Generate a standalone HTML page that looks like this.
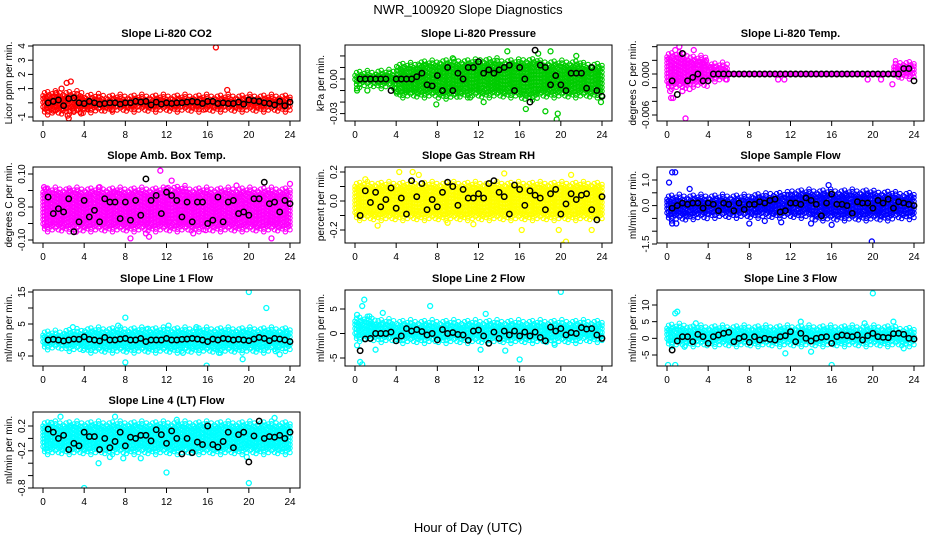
<!DOCTYPE html>
<html><head><meta charset="utf-8"><style>
body{margin:0;background:#fff}
svg{display:block;font-family:"Liberation Sans",Arial,sans-serif}
</style></head><body>
<svg id="c" width="936" height="540" viewBox="0 0 936 540">
<text x="468" y="14" text-anchor="middle" font-size="13">NWR_100920  Slope Diagnostics</text>
<text x="468" y="532" text-anchor="middle" font-size="13">Hour of Day (UTC)</text>
</svg>
<script>
const xTicks=[0,4,8,12,16,20,24];
const blackHours=[0.5,1,1.5,2,2.5,3,3.5,4,4.5,5,5.5,6,6.5,7,7.5,8,8.5,9,9.5,10,10.5,11,11.5,12,12.5,13,13.5,14,14.5,15,15.5,16,16.5,17,17.5,18,18.5,19,19.5,20,20.5,21,21.5,22,22.5,23,23.5,24];

const co2Lo=[-0.5,-0.45,-0.35,-0.3,-0.3,-0.3,-0.3,-0.3,-0.3,-0.3,-0.3,-0.3];
const co2Hi=[0.5,0.5,0.3,0.25,0.25,0.25,0.25,0.25,0.25,0.25,0.25,0.25];
const co2Out=[[16.8,3.9],[2.7,1.5],[2.3,1.4],[1.8,1.0],[17.9,0.9],[1.3,0.7],[2.5,-1.1],[2.4,-0.9],[3.7,-0.75],[1.0,-0.55],[3.0,-0.55],[4.3,-0.4],[6.7,-0.5],[15.8,-0.45]];
const co2Black=[0,0.1,0.2,-0.2,0.3,0.35,0,-0.05,0.1,0,-0.1,-0.05,0,0,-0.1,0,0,0.1,0.05,0.1,-0.15,0.05,-0.1,0,-0.05,0,0,0.05,0.1,0.05,-0.05,0.1,0.1,-0.05,0,-0.05,-0.05,0.05,-0.1,0.2,0.15,0.1,0,-0.05,-0.15,0.1,-0.2,0.05];

const presLo=[-0.003,-0.004,-0.012,-0.012,-0.013,-0.012,-0.012,-0.012,-0.014,-0.012,-0.012,-0.012];
const presHi=[0.003,0.004,0.01,0.012,0.013,0.013,0.014,0.013,0.014,0.012,0.012,0.01];
const presOut=[[0.2,-0.008],[0.2,-0.01],[1.2,-0.01],[3.8,-0.008],[4.0,-0.011],[5.0,-0.01],[7.9,-0.022],[6.7,0.012],[14.8,0.024],[16.6,-0.026],[19.0,0.024],[19.6,-0.035],[19.7,-0.03],[23.9,-0.02],[18.5,-0.028],[12.5,-0.02],[9.5,0.018],[11.2,-0.016],[21.5,0.02],[17.8,0.022]];
const presBlack=[0,0,0,0,0,0,-0.01,0,0,0,0,0.002,0.005,-0.005,-0.006,0.003,-0.01,0.01,-0.01,0.005,0,0.01,0.01,0.015,0.005,0.008,0.005,0.008,0.01,0.012,-0.01,0.01,0,-0.02,0.025,0.012,0.01,-0.005,0.003,-0.005,-0.01,0.005,0.005,0.005,-0.008,0.01,-0.01,-0.015];

const tempLo=[-0.0015,-0.0012,-0.0004,0,0,0,0,0,0,0,0,0];
const tempHi=[0.0025,0.002,0.001,0,0,0,0,0,0,0,0,0.0012];
const tempOut=[[1.8,-0.0065],[2.0,0.0055],[1.0,0.005],[0.3,-0.0025],[0.4,-0.0035],[0.6,-0.0035],[1.5,-0.0025],[2.2,-0.0022],[2.6,0.0035],[1.2,0.004],[0.8,0.0035],[5.8,-0.0008],[10.8,-0.0008],[11.4,-0.0008],[19.5,-0.0008],[20.8,-0.0008],[21.9,-0.0015],[3.8,0.002],[3.4,0.0015],[4.3,0.001]];
const tempBlack=[-0.001,-0.003,0.003,-0.001,-0.0005,0,-0.001,-0.001,0,0,0,0,0,0,0,0,0,0,0,0,0,0,0,0,0,0,0,0,0,0,0,0,0,0,0,0,0,0,0,0,0,0,0,0,0,0.0008,0.0008,-0.001];

const ambLo=[-0.06,-0.06,-0.06,-0.06,-0.06,-0.06,-0.06,-0.06,-0.06,-0.06,-0.06,-0.06];
const ambHi=[0.045,0.045,0.045,0.045,0.045,0.045,0.05,0.045,0.045,0.045,0.045,0.045];
const ambOut=[[0.1,0.06],[0.3,0.055],[7.0,0.045],[10.0,-0.08],[10.3,-0.09],[11.4,0.11],[12.0,0.055],[15.8,-0.07],[8.5,-0.095],[22.2,-0.095],[24.0,0.07],[2.6,0.05],[12.5,0.08],[3.2,-0.075],[5.5,0.06],[18.8,0.065],[14.6,-0.08]];
const ambBlack=[0.03,-0.02,-0.005,-0.015,0.025,-0.075,-0.045,0.02,-0.03,-0.01,-0.045,0.025,0.015,0.015,-0.035,0.015,-0.04,0.02,-0.025,0.085,0.02,0.035,-0.02,0.045,0.035,0.02,-0.03,0.015,-0.045,0.015,0.015,-0.05,-0.04,0.03,-0.045,0.015,0.02,-0.02,-0.015,-0.025,0.025,0.025,0.075,0.01,0.015,-0.015,0.02,0.01];

const rhLo=[-0.1,-0.1,-0.1,-0.1,-0.1,-0.1,-0.1,-0.1,-0.1,-0.1,-0.1,-0.1];
const rhHi=[0.1,0.1,0.1,0.1,0.1,0.1,0.1,0.1,0.1,0.1,0.1,0.1];
const rhOut=[[5.6,0.2],[9.0,-0.15],[16.2,-0.2],[19.8,-0.2],[20.2,-0.3],[20.5,-0.28],[23,-0.2],[14.5,0.19],[21,0.18],[2.2,-0.17],[4.3,0.2],[6.2,0.18],[1.0,0.15],[11.5,-0.16]];
const rhBlack=[-0.1,0.07,-0.01,0.06,-0.04,0.01,0.09,-0.05,0.02,-0.09,0.14,0.03,0.12,-0.06,0.01,-0.04,0.06,0.13,0.1,-0.03,0.08,0.02,0.02,0.05,0.02,0.12,0.14,0.06,0.03,-0.09,0.11,0.08,-0.03,0.07,0.04,0.02,-0.06,0.05,0.08,-0.09,-0.02,0.05,0.01,0.04,0.05,-0.06,-0.13,0.03];

const flowLo=[-0.4,-0.35,-0.3,-0.3,-0.3,-0.3,-0.3,-0.4,-0.4,-0.4,-0.4,-0.35];
const flowHi=[0.25,0.25,0.25,0.25,0.3,0.35,0.45,0.45,0.45,0.45,0.4,0.35];
const flowOut=[[0.5,1.3],[0.8,1.3],[0.2,0.9],[2.2,0.65],[15.7,0.8],[19.9,-1.4],[0.5,-0.7],[0.9,-0.7],[16,-0.75],[14,-0.7],[8,-0.7],[11.1,-0.65],[9.5,-0.6]];
const flowBlack=[-0.1,0,0.1,0.05,0.1,0.1,-0.1,0.1,0.05,-0.2,0.1,0.05,-0.2,0.1,-0.15,0.05,0.05,0.15,0.1,0.2,0.25,-0.25,-0.2,0.1,0.1,0.05,0.3,0.2,0.05,-0.4,0.1,0.45,0.05,0.05,0,-0.3,0.15,0.1,0.1,-0.1,0.2,0.1,0.25,-0.1,0.15,0.1,0.05,0];

const l1Lo=[-1.5,-2,-2.5,-2.5,-2.5,-2.5,-2.5,-2.5,-2.5,-2.5,-2.5,-2];
const l1Hi=[1.5,2,2.5,2.5,2.5,2.5,2.5,2.5,2.5,2.5,2.5,2.5];
const l1Out=[[20,15],[21.7,10],[8,7],[7.3,4.5],[2.9,4],[12.2,4.5],[8,-7],[15.9,-8],[19.4,-6],[22.6,-3.5],[23,-4.5],[13.6,-4],[17.1,-4],[10.2,3.5],[14.9,4]];
const l1Black=[0,0.2,0,-0.3,0,0.3,0.2,1,0.2,0,-0.3,0.8,0,0,0.3,0.5,0,0,0.5,-0.5,0,0,0,0.5,0,0,0.2,0.3,0.5,0.3,0,-0.5,0.3,0,0.5,0.3,0,0.2,0,-0.2,0.3,0.8,0.5,-0.2,0.5,0.3,0,-0.5];

const l2Lo=[-0.6,-0.8,-1,-1,-1,-1,-1,-1,-1,-1,-1,-0.8];
const l2Hi=[2.5,2,1.8,1.8,1.8,1.8,1.8,1.8,1.8,1.8,1.8,1.8];
const l2Out=[[20,8.5],[0.9,6.9],[0.7,5.6],[7.3,5.6],[0.2,3.8],[1.4,3.5],[2.7,4.2],[12.7,4],[0.5,-5.8],[0.7,-6.3],[2.0,-3.3],[12.2,-3.3],[16,-5.3],[14.6,-3.5],[0.2,-2.4],[19.4,-2.3]];
const l2Black=[-3.5,-1.1,-1.0,0,0,0,0.3,-1.5,-0.5,1.0,0.5,0.8,0.4,-0.3,0,-1.3,0.8,0,0.2,-0.2,-0.3,-1.4,0.5,0.7,-0.5,-2,0.3,-1,0.5,-0.3,0.5,-0.5,0.3,-0.5,0.3,-0.8,-1.5,1.3,0.5,1,-0.3,0.2,0,1.2,0.9,1,-0.3,-1];

const l3Lo=[-1,-1,-1,-1,-1,-1,-1,-1,-1,-1,-1,-1];
const l3Hi=[3,2.5,2.5,2.5,2.5,2.5,2.5,2.5,2.5,2.5,2.5,2];
const l3Out=[[20,13.5],[1.0,8],[0.8,7.5],[13,5],[19.2,4.5],[22,5],[2.8,4.5],[0.1,-8],[0.8,-8],[16,-8],[11.5,-4.5],[14,-4],[23,-3],[1.7,-2.5]];
const l3Black=[-3.5,-0.8,0.5,0.5,-1,1.2,0.5,-1.5,0.5,1,1.5,1.8,-1,0,0.5,-1.2,0.5,-0.5,0,-0.3,-0.5,0.5,0.8,2,-1,1.5,0,-0.8,0,0.3,0.5,-1.5,0.5,1,0.8,0.5,1,-0.5,0.8,1.5,0.5,0.3,0.2,1.4,1.5,1.2,0,-0.2];

const l4Lo=[-0.18,-0.18,-0.18,-0.18,-0.18,-0.18,-0.18,-0.18,-0.18,-0.18,-0.18,-0.18];
const l4Hi=[0.2,0.2,0.2,0.2,0.2,0.2,0.2,0.2,0.2,0.2,0.2,0.2];
const l4Out=[[4,-0.8],[12,-0.55],[20,-0.72],[1.7,0.35],[7.0,0.35],[22.5,0.33],[5.4,-0.4],[7.8,-0.32],[19.8,-0.3],[2.6,0.18],[9.5,-0.32],[0.8,0.25],[13,0.3],[6.5,-0.3]];
const l4Black=[0.15,0.1,0,0.05,-0.18,-0.08,-0.12,0.1,0.03,0.03,-0.18,0,-0.15,-0.05,0.1,-0.12,0.02,0,0.05,0.05,-0.04,0.14,0.06,-0.08,0.12,0,-0.25,0,-0.23,-0.06,-0.1,0.2,-0.1,-0.14,-0.05,0.1,-0.15,0.06,0.1,-0.38,0.04,0.28,0,0.03,0.02,0.05,0,0.1];

const panels=[
 {name:'co2',title:'Slope Li-820 CO2',ylab:'Licor ppm per min.',col:0,row:0,color:'#ff0000',v0:4,p0:46,v1:-1,p1:117,ticks:[-1,0,1,2,3,4],labels:['-1','','1','2','3','4'],lo:co2Lo,hi:co2Hi,out:co2Out,blk:co2Black},
 {name:'pressure',title:'Slope Li-820 Pressure',ylab:'kPa per min.',col:1,row:0,color:'#00cc00',v0:0,p0:79,v1:-0.03,p1:113.6,ticks:[-0.03,-0.02,-0.01,0,0.01,0.02],labels:['-0.03','','','0.00','',''],lo:presLo,hi:presHi,out:presOut,blk:presBlack},
 {name:'temp',title:'Slope Li-820 Temp.',ylab:'degrees C per min.',col:2,row:0,color:'#ff00ff',v0:0,p0:74,v1:-0.006,p1:115,ticks:[-0.006,-0.004,-0.002,0,0.002,0.004],labels:['-0.006','','','0.000','',''],lo:tempLo,hi:tempHi,out:tempOut,blk:tempBlack},
 {name:'amb-temp',title:'Slope Amb. Box Temp.',ylab:'degrees C per min.',col:0,row:1,color:'#ff00ff',v0:0.1,p0:174,v1:-0.1,p1:240,ticks:[-0.1,-0.05,0,0.05,0.1],labels:['-0.10','','0.00','','0.10'],lo:ambLo,hi:ambHi,out:ambOut,blk:ambBlack},
 {name:'gas-rh',title:'Slope Gas Stream RH',ylab:'percent per min.',col:1,row:1,color:'#ffff00',v0:0.2,p0:172,v1:-0.2,p1:230,ticks:[-0.2,-0.1,0,0.1,0.2],labels:['-0.2','','0.0','','0.2'],lo:rhLo,hi:rhHi,out:rhOut,blk:rhBlack},
 {name:'sample-flow',title:'Slope Sample Flow',ylab:'ml/min per min.',col:2,row:1,color:'#0000ff',v0:1,p0:180,v1:-1.5,p1:244,ticks:[-1.5,-1,-0.5,0,0.5,1],labels:['-1.5','','','0.0','','1.0'],lo:flowLo,hi:flowHi,out:flowOut,blk:flowBlack},
 {name:'line1-flow',title:'Slope Line 1 Flow',ylab:'ml/min per min.',col:0,row:2,color:'#00ffff',v0:15,p0:292,v1:-5,p1:356,ticks:[-5,0,5,10,15],labels:['-5','','5','','15'],lo:l1Lo,hi:l1Hi,out:l1Out,blk:l1Black},
 {name:'line2-flow',title:'Slope Line 2 Flow',ylab:'ml/min per min.',col:1,row:2,color:'#00ffff',v0:5,p0:309,v1:-5,p1:358,ticks:[-5,0,5],labels:['-5','0','5'],lo:l2Lo,hi:l2Hi,out:l2Out,blk:l2Black},
 {name:'line3-flow',title:'Slope Line 3 Flow',ylab:'ml/min per min.',col:2,row:2,color:'#00ffff',v0:10,p0:305,v1:-5,p1:355,ticks:[-5,0,5,10],labels:['-5','0','5','10'],lo:l3Lo,hi:l3Hi,out:l3Out,blk:l3Black},
 {name:'line4-flow',title:'Slope Line 4 (LT) Flow',ylab:'ml/min per min.',col:0,row:3,color:'#00ffff',v0:0.2,p0:426,v1:-0.8,p1:488,ticks:[-0.8,-0.6,-0.4,-0.2,0,0.2],labels:['-0.8','','','-0.2','','0.2'],lo:l4Lo,hi:l4Hi,out:l4Out,blk:l4Black}
];
const colL=[33,345,657], rowT=[45,167,290,412], BW=267, BH=76;
const NS='http://www.w3.org/2000/svg';
const svg=document.getElementById('c');
function mk(tag,attrs,parent){const e=document.createElementNS(NS,tag);for(const k in attrs)e.setAttribute(k,attrs[k]);(parent||svg).appendChild(e);return e;}
const ragged=[0,3,-2,4,1,-3,2,-1,5,-2,0,3,-4,1];
panels.forEach((p,i)=>{
  const L=colL[p.col],T=rowT[p.row],R=L+BW,B=T+BH;
  const xs=h=>L+10+h*(BW-20)/24;
  const ys=v=>p.p0+(v-p.v0)*(p.p1-p.p0)/(p.v1-p.v0);
  const g=mk('g',{});
  
  
  const cp=mk('clipPath',{id:'cp'+i},g);mk('rect',{x:L,y:T,width:BW,height:BH},cp);
  const t=mk('text',{x:L+BW/2,y:T-8,'text-anchor':'middle','font-size':11,'font-weight':'bold'},g);t.textContent=p.title;
  
  
  const yl=mk('text',{transform:`translate(${L-21},${T+BH/2}) rotate(-90)`,'text-anchor':'middle','font-size':10},g);yl.textContent=p.ylab;
  
  
  const pts=mk('g',{'clip-path':`url(#cp${i})`,fill:'none'},g);
  
  
  let c=0;
  for(let h=0;h<=24.01;h+=0.15){
    const k=Math.min(11,Math.floor(h/2));
    let y1=ys(p.hi[k]),y2=ys(p.lo[k]);
    if(y2-y1>1){y1-=ragged[c%14];y2+=ragged[(c+5)%14];}
    const ny=Math.max(0,Math.round((y2-y1)/3.6));
    const off=(c%2)*1.8;
    for(let j=0;j<=ny;j++){
      let y=ny?y1+(y2-y1)*j/ny:y1;
      if(ny&&j>0&&j<ny)y+=off-0.9;
      mk('circle',{cx:xs(h),cy:y,r:2.2,stroke:p.color,'stroke-width':1.1},pts);
    }
    c++;
  }
  p.out.forEach(o=>{mk('circle',{cx:xs(o[0]),cy:ys(o[1]),r:2.5,stroke:p.color,'stroke-width':1.3},pts);});
  p.blk.forEach((v,j)=>{mk('circle',{cx:xs(blackHours[j]),cy:ys(v),r:2.7,stroke:'#000','stroke-width':1.5},pts);});
  mk('rect',{x:L,y:T,width:BW,height:BH,fill:'none',stroke:'#000','stroke-width':1},g);
  xTicks.forEach(h=>{
    mk('line',{x1:xs(h),x2:xs(h),y1:B,y2:B+5,stroke:'#000'},g);
    const tx=mk('text',{x:xs(h),y:B+17,'text-anchor':'middle','font-size':10},g);tx.textContent=h;
    
    
  });
  p.ticks.forEach((v,j)=>{
    const y=ys(v);
    mk('line',{x1:L-5,x2:L,y1:y,y2:y,stroke:'#000'},g);
    if(p.labels[j]){
      const ty=mk('text',{transform:`translate(${L-8},${y}) rotate(-90)`,'text-anchor':'middle','font-size':10},g);ty.textContent=p.labels[j];
      
      
    }
  });
});
</script>
</body></html>
